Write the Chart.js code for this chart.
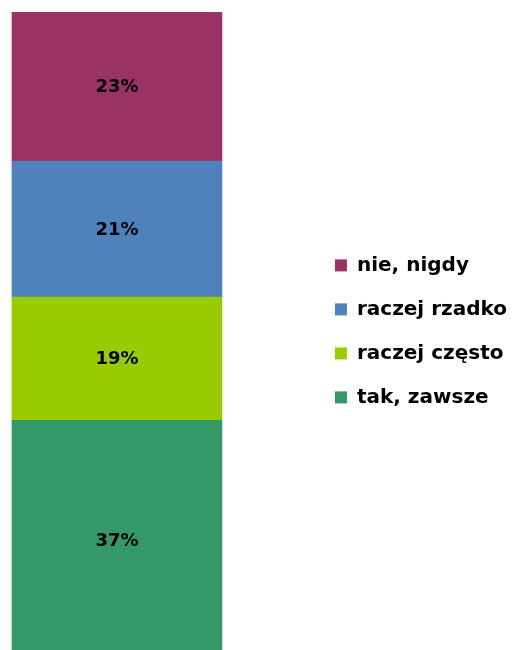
<!DOCTYPE html>
<html>
<head>
<meta charset="utf-8">
<script src="https://cdn.jsdelivr.net/npm/chart.js@4/dist/chart.umd.min.js"></script>
<style>
html, body { margin: 0; padding: 0; background: #fff; overflow: hidden; }
#wrap { position: relative; width: 514px; height: 660px; }
</style>
</head>
<body>
<div id="wrap"><canvas id="myChart"></canvas></div>
<script>
// Kategorien von unten nach oben gestapelt
const categories = ['tak, zawsze', 'raczej często', 'raczej rzadko', 'nie, nigdy'];
const values = [37, 19, 21, 23];
const colors = ['#339966', '#99CC00', '#4F81BD', '#993366'];

const FONT = '"DejaVu Sans", Verdana, sans-serif';

// Werte mittig in die Balken schreiben
const barLabels = {
id: 'barLabels',
afterDatasetsDraw(chart) {
const ctx = chart.ctx;
ctx.save();
ctx.font = 'bold 18px ' + FONT;
ctx.fillStyle = '#000';
ctx.textAlign = 'center';
ctx.textBaseline = 'middle';
chart.data.datasets.forEach((ds, i) => {
const meta = chart.getDatasetMeta(i);
meta.data.forEach((bar, j) => {
const y = (bar.y + bar.base) / 2;
ctx.fillText(ds.data[j] + '%', bar.x, y + 1);
});
});
ctx.restore();
}
};

const datasets = categories.map((name, i) => {
return {
label: name,
data: [values[i]],
backgroundColor: colors[i],
borderWidth: 0,
barThickness: 210
};
});

const config = {
type: 'bar',
data: {
labels: [''],
datasets: datasets
},
options: {
responsive: false,
animation: false,
events: [],
layout: {
padding: { top: 12, bottom: 0, left: 0, right: -3 }
},
scales: {
x: {
stacked: true,
display: false
},
y: {
stacked: true,
display: false,
min: 0,
max: 100
},
// unsichtbare Achse nur als Abstand zwischen Balken und Legende
spacer: {
type: 'linear',
position: 'right',
display: false,
afterFit: function(scale) {
scale.width = 77;
}
}
},
plugins: {
legend: {
position: 'right',
align: 'start',
reverse: true,
title: {
display: true,
text: '',
font: { size: 12 },
padding: { top: 205, bottom: 0 }
},
labels: {
boxWidth: 12,
boxHeight: 12,
padding: 24,
color: '#000',
font: { family: FONT, size: 20, weight: 'bold' }
}
},
tooltip: { enabled: false }
}
},
plugins: [barLabels]
};

const canvas = document.getElementById('myChart');
canvas.width = 514;
canvas.height = 660;
new Chart(canvas, config);
</script>
</body>
</html>
